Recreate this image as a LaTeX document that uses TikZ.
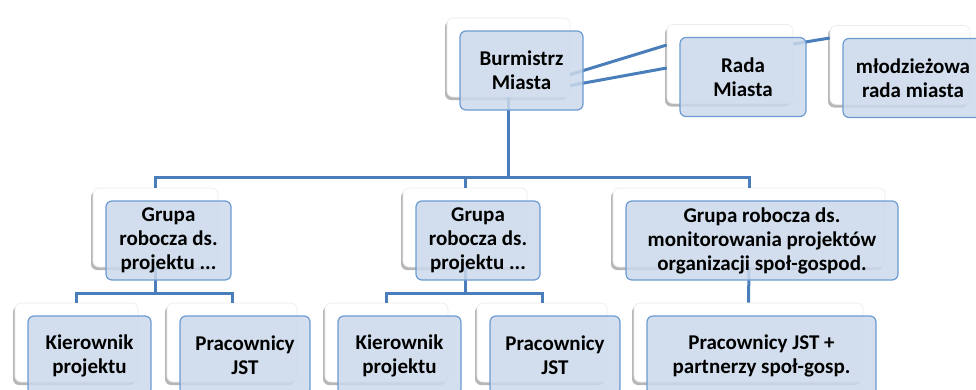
\documentclass[tikz,border=0pt]{standalone}
\usepackage{fontspec}
\setmainfont{Carlito}
\usetikzlibrary{shadows}
\definecolor{boxfill}{HTML}{CBD9EB}
\definecolor{boxline}{HTML}{6C9BD2}
\definecolor{linkline}{HTML}{4A7EBB}
\begin{document}
\begin{tikzpicture}[x=1pt, y=-1pt,
		back/.style={rectangle, rounded corners=6pt, fill=white, draw=black!8, line width=0.6pt,
			minimum height=79pt, inner sep=0pt,
			drop shadow={shadow xshift=-2pt, shadow yshift=-3pt, fill=black!70, opacity=0.4}},
		front/.style={rectangle, rounded corners=6pt, draw=boxline, line width=1.2pt, fill=boxfill,
			fill opacity=0.85, text opacity=1, minimum height=79pt, inner sep=0pt, align=center,
			font=\fontsize{21}{24}\selectfont\bfseries},
		link/.style={draw=linkline, line width=3pt}]
		\useasboundingbox (0,0) rectangle (976,389);
		\clip (0,0) rectangle (976,389);
		% back boxes
		\node[back, minimum width=123pt] (burm) at (508.5, 57.5) {};
		\node[back, minimum width=126pt] (rada) at (730, 64) {};
		\node[back, minimum width=140pt] (mlodz) at (900, 65) {};
		\node[back, minimum width=125pt] (g1) at (155.5, 227.5) {};
		\node[back, minimum width=124pt] (g2) at (465, 227.5) {};
		\node[back, minimum width=272pt] (g3) at (749, 227.5) {};
		\node[back, minimum width=123pt] (k1) at (76.5, 342.5) {};
		\node[back, minimum width=130pt] (p1) at (232, 342.5) {};
		\node[back, minimum width=123pt] (k2) at (386.5, 342.5) {};
		\node[back, minimum width=130pt] (p2) at (542, 342.5) {};
		\node[back, minimum width=229pt] (pj) at (748.5, 342.5) {};
		% connectors
		\coordinate (bus) at (508.5, 177);
		\coordinate (bus1) at (155.5, 293);
		\coordinate (bus2) at (465, 293);
		\path[link] ([yshift=-17pt]burm.east) -- ([yshift=19pt]rada.west);
		\path[link] ([yshift=-28pt]burm.east) -- ([yshift=-4pt]rada.west);
		\path[link] ([yshift=20pt]rada.east) -- ([yshift=27pt]mlodz.west);
		\path[link] (burm.south) -- (bus);
		\path[link] (bus) -| (g1.north);
		\path[link] (bus) -| (g2.north);
		\path[link] (bus) -| (g3.north);
		\path[link] (g1.south) -- (bus1);
		\path[link] (bus1) -| (k1.north);
		\path[link] (bus1) -| (p1.north);
		\path[link] (g2.south) -- (bus2);
		\path[link] (bus2) -| (k2.north);
		\path[link] (bus2) -| (p2.north);
		\path[link] (g3.south) -- (pj.north);
		% front boxes
		\node[front, minimum width=123pt] (burmF) at (521.5, 70.5) {Burmistrz\\Miasta};
		\node[front, minimum width=126pt] (radaF) at (743, 77) {Rada\\Miasta};
		\node[front, minimum width=140pt] (mlodzF) at (913, 78) {młodzieżowa\\rada miasta};
		\node[front, minimum width=125pt] (g1F) at (168.5, 240.5) {Grupa\\robocza ds.\\projektu ...};
		\node[front, minimum width=124pt] (g2F) at (478, 240.5) {Grupa\\robocza ds.\\projektu ...};
		\node[front, minimum width=272pt] (g3F) at (762, 240.5) {Grupa robocza ds.\\monitorowania projektów\\organizacji społ-gospod.};
		\node[front, minimum width=123pt] (k1F) at (89.5, 355.5) {Kierownik\\projektu};
		\node[front, minimum width=130pt] (p1F) at (245, 355.5) {Pracownicy\\JST};
		\node[front, minimum width=123pt] (k2F) at (399.5, 355.5) {Kierownik\\projektu};
		\node[front, minimum width=130pt] (p2F) at (555, 355.5) {Pracownicy\\JST};
		\node[front, minimum width=229pt] (pjF) at (761.5, 355.5) {Pracownicy JST +\\partnerzy społ-gosp.};
	\end{tikzpicture}
\end{document}
